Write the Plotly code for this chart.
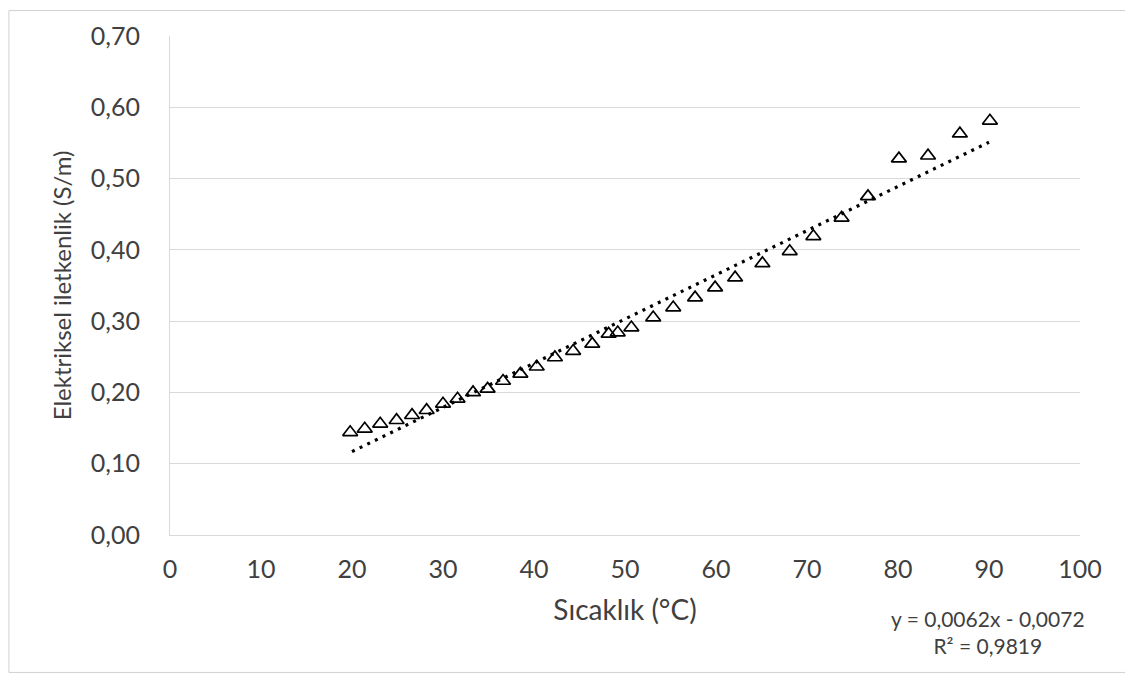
import plotly.graph_objects as go

# Data
temp_c = [19.8, 21.4, 23.1, 24.9, 26.6, 28.2, 30.0, 31.6, 33.3, 34.9, 36.6,
          38.5, 40.3, 42.3, 44.3, 46.4, 48.2, 49.2, 50.7, 53.1, 55.3, 57.7,
          59.9, 62.1, 65.1, 68.1, 70.7, 73.8, 76.7, 80.1, 83.3, 86.8, 90.1]
conductivity = [0.144, 0.149, 0.156, 0.161, 0.168, 0.175, 0.184, 0.191, 0.200,
                0.205, 0.216, 0.226, 0.236, 0.249, 0.258, 0.268, 0.282, 0.284,
                0.291, 0.305, 0.319, 0.333, 0.347, 0.361, 0.381, 0.398, 0.419,
                0.445, 0.475, 0.528, 0.532, 0.563, 0.581]

# Linear trendline endpoints (as shown on the chart)
trend_x = [20, 90]
trend_y = [0.117, 0.551]

x_ticks = [0, 10, 20, 30, 40, 50, 60, 70, 80, 90, 100]
y_ticks = [0.0, 0.1, 0.2, 0.3, 0.4, 0.5, 0.6, 0.7]

equation_text = "y = 0,0062x - 0,0072<br>R² = 0,9819"
x_title = "Sıcaklık (°C)"
y_title = "Elektriksel iletkenlik (S/m)"

FONT = "Lato, Open Sans, sans-serif"
TXT = "#404040"
GRID = "#d9d9d9"

# page body has an 8px default margin -> figure is offset by 8px
fig = go.Figure()
fig.add_trace(go.Scatter(
    x=trend_x, y=trend_y, mode="lines",
    line=dict(color="black", width=3.2, dash="3px,5.5px"),
    showlegend=False, hoverinfo="skip"))
fig.add_trace(go.Scatter(
    x=temp_c, y=conductivity, mode="markers",
    marker=dict(symbol="triangle-up-open", size=13, color="black",
                line=dict(color="black", width=1.7)),
    showlegend=False))

fig.update_layout(
    width=1125, height=667,
    margin=dict(l=162, r=53, t=26, b=140),
    paper_bgcolor="white", plot_bgcolor="white",
    separators=",.",
    font=dict(family=FONT, size=25, color=TXT),
    xaxis=dict(range=[0, 100], tickvals=x_ticks, showgrid=False,
               showline=True, linecolor=GRID, linewidth=1, zeroline=False,
               ticks="", ticklabelstandoff=12,
               tickfont=dict(family=FONT, size=25, color=TXT),
               title=dict(text=x_title, standoff=18,
                          font=dict(family=FONT, size=28, color=TXT))),
    yaxis=dict(range=[0, 0.7], tickvals=y_ticks, tickformat=".2f",
               showgrid=True, gridcolor=GRID, gridwidth=1,
               showline=True, linecolor=GRID, linewidth=1, zeroline=False,
               ticks="", ticklabelstandoff=24,
               tickfont=dict(family=FONT, size=25, color=TXT),
               title=dict(text=y_title, standoff=12,
                          font=dict(family=FONT, size=24, color=TXT))),
    shapes=[dict(type="rect", xref="paper", yref="paper",
                 x0=-0.177, x1=1.056, y0=-0.2754, y1=1.051,
                 line=dict(color="#d0d0d0", width=1), layer="below")],
    annotations=[dict(text=equation_text, xref="paper", yref="paper",
                      x=(988 - 170) / 910, y=(535 - 632) / 501,
                      xanchor="center", yanchor="middle", showarrow=False,
                      align="center",
                      font=dict(family=FONT, size=21, color=TXT))],
)

fig.write_html("out.html")
